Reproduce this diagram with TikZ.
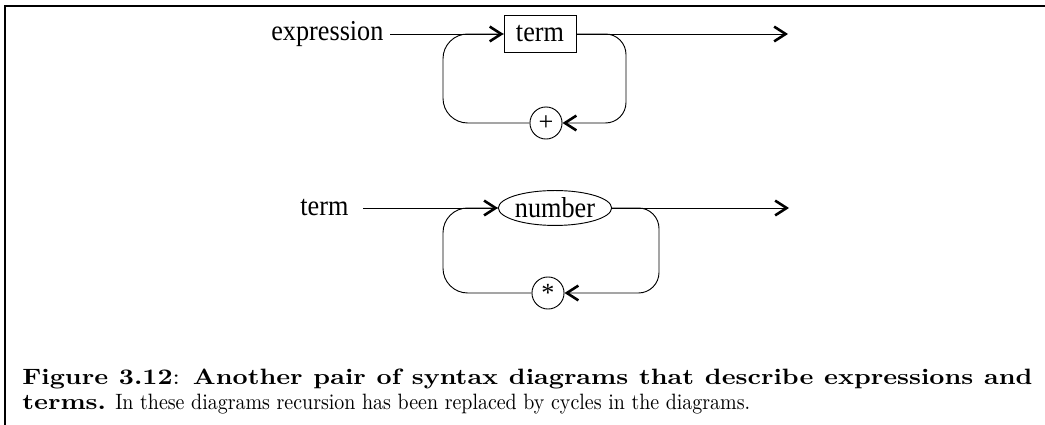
\documentclass[tikz,border=0pt]{standalone}
\usepackage{fontspec}
\usepackage{graphicx}
\newfontfamily\dfont{Liberation Serif}
\usetikzlibrary{arrows.meta,shapes.geometric}
\newcommand{\dtext}[1]{\scalebox{1}[1.1]{#1}}
\begin{document}
\begin{tikzpicture}[x=0.4866pt,y=-0.4866pt,
  every node/.style={font=\dfont\fontsize{12.75pt}{15pt}\selectfont},
  conn/.style={line width=0.45pt},
  tip/.style={conn,-{Straight Barb[length=5.6pt,width=7.2pt,line width=1.25pt]}},
  loopL/.style={conn,rounded corners=12pt},
  loopR/.style={tip,rounded corners=10pt},
  termbox/.style={draw,line width=0.45pt,minimum width=35pt,minimum height=18pt,inner sep=0pt},
  nonterm/.style={draw,ellipse,line width=0.45pt,minimum width=51pt,minimum height=17pt,inner sep=0pt},
  opcirc/.style={draw,circle,line width=0.45pt,minimum size=15.6pt,inner sep=0pt},
  lbl/.style={inner sep=3pt},
  frame/.style={line width=1.2pt},
  captxt/.style={anchor=base west,inner sep=0pt,font=\normalfont}
]
\useasboundingbox (0,0) rectangle (1045,425);
% frame
\coordinate (fa) at (5,425);
\coordinate (fb) at (5,6);
\coordinate (fc) at (1045,6);
\draw[frame] (fa) -- (fb) -- (fc);

% ---- expression diagram
\node[lbl,anchor=east] (expr) at (390,34) {\dtext{expression}};
\node[termbox] (tbox) at (540,34) {\dtext{term}};
\coordinate (e1) at (788,34);
\node[opcirc] (plus) at (546,123) {+};
\coordinate (rc1) at (626,123);
\coordinate (lc1) at (443,123);
\draw[tip] (expr.east) -- (tbox.west);
\draw[tip] (tbox.east) -- (e1);
\draw[loopR] (tbox.east) -| (rc1) -- (plus.east);
\draw[loopL] (plus.west) -- (lc1) |- (tbox.west);

% ---- term diagram
\node[lbl,anchor=east] (tlab) at (355,208) {\dtext{term}};
\node[nonterm] (num) at (555,208) {\dtext{number}};
\coordinate (e2) at (789,208);
\node[opcirc] (star) at (548,293) {\raisebox{-0.3em}{*}};
\coordinate (rc2) at (659,293);
\coordinate (lc2) at (443,293);
\draw[tip,shorten <=4pt] (tlab.east) -- (num.west);
\draw[tip] (num.east) -- (e2);
\draw[loopR] (num.east) -| (rc2) -- (star.east);
\draw[loopL] (star.west) -- (lc2) |- (num.west);

% ---- caption
\node[captxt] (cap1) at (22,385)
  {\scalebox{1.28}[1.08]{\makebox[384pt][s]{\textbf{Figure 3.12}: \textbf{Another pair of syntax diagrams that describe expressions and}}}};
\node[captxt] (cap2) at (22,410)
  {\scalebox{1.28}[1.08]{\textbf{terms.}}\hspace{4.5pt}\scalebox{0.97}[1.08]{In these diagrams recursion has been replaced by cycles in the diagrams.}};
\end{tikzpicture}
\end{document}
